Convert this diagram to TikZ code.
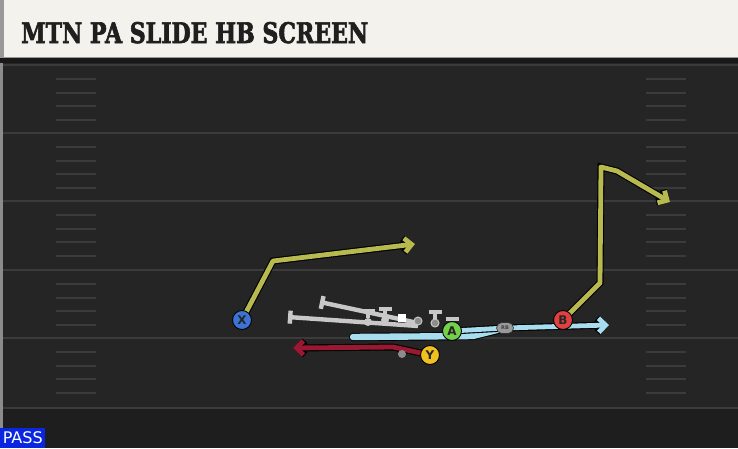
\documentclass[tikz,border=0pt]{standalone}
\usepackage{fontspec}
\usepackage{graphicx}
\usetikzlibrary{arrows.meta,shapes.misc}

\newfontfamily\titlefont[FakeBold=2.5]{DejaVu Serif}
\newfontfamily\labelfont{DejaVu Sans}

\definecolor{turf}{HTML}{252525}
\definecolor{yardline}{HTML}{3B3B3B}
\definecolor{banner}{HTML}{F4F2EC}
\definecolor{olive}{HTML}{B8B94E}
\definecolor{screen}{HTML}{A7DDEE}
\definecolor{crimson}{HTML}{9A1831}
\definecolor{block}{HTML}{C8C8C8}
\definecolor{xblue}{HTML}{3C74D6}
\definecolor{agreen}{HTML}{74D04A}
\definecolor{yyellow}{HTML}{F0C021}
\definecolor{bred}{HTML}{E0403F}
\definecolor{passblue}{HTML}{0B26E0}

\pgfdeclarelayer{turf}
\pgfdeclarelayer{routes}
\pgfsetlayers{turf,routes,main}

\tikzset{
  player/.style={circle, draw=black, line width=0.9pt, minimum size=19pt, inner sep=0pt,
    text=black!85, font=\labelfont\bfseries\fontsize{12}{12}\selectfont},
  route/.style={line width=4.8pt, line join=round,
    preaction={draw=black, line width=7pt}},
  tip/.style={-{Straight Barb[length=7pt, width=14pt]}},
  blockline/.style={draw=block, line width=4.4pt, -{Bar[width=13pt]}},
  lineman/.style={circle, inner sep=0pt, minimum size=8pt},
  hashmark/.style={draw=yardline, line width=1.6pt}
}

\begin{document}
\begin{tikzpicture}[x=1pt, y=-1pt]
\useasboundingbox (0,0) rectangle (738,448);

\begin{pgfonlayer}{turf}
  % field
  \fill[turf] (0,0) rectangle (738,448);
  \fill[black!18!turf] (0,408) rectangle (738,448);
  \foreach \yl in {65,133,201,270,338,408}
    \draw[yardline, line width=2pt] (0,\yl) -- (738,\yl);
  \foreach \yl in {65,133,201,270,338}
    \foreach \off in {14,28,41,55} {
      \draw[hashmark] (56,\yl+\off) -- (96,\yl+\off);
      \draw[hashmark] (646,\yl+\off) -- (686,\yl+\off);
    }
  \fill[black!45] (0,58) rectangle (2.5,448);
  % header
  \fill[black!90] (0,56) rectangle (738,63);
  \fill[black!40] (0,0) rectangle (738,58);
  \fill[banner] (4,0) rectangle (738,57);
\end{pgfonlayer}

\node[anchor=base west, inner sep=0pt, text=black!88] (title) at (21,43)
  {\resizebox{347pt}{21pt}{\titlefont\bfseries MTN PA SLIDE HB SCREEN}};
\node[fill=passblue, anchor=south west, minimum width=45pt, minimum height=20pt,
  inner sep=0pt, text=white, font=\labelfont\fontsize{16}{16}\selectfont] (pass) at (0,448) {PASS};

% offensive line
\node[lineman, fill=block] (lt) at (368,322) {};
\node[lineman, fill=block] (lg) at (385,320) {};
\node[fill=white, minimum size=8pt, inner sep=0pt] (c) at (402,318) {};
\node[lineman, fill=black!45, draw=block, line width=1pt] (rg) at (418,321) {};
\node[lineman, fill=black!45, draw=block, line width=1pt] (rt) at (435,323) {};

% skill players
\node[player, fill=xblue] (X) at (242,320) {X};
\node[player, fill=agreen] (A) at (452,331) {A};
\node[player, fill=yyellow] (Y) at (430,355) {Y};
\node[player, fill=bred] (B) at (563,320) {B};
\node[rounded rectangle, fill=black!40, draw=black!80, line width=0.6pt, minimum width=17pt,
  minimum height=11pt, inner sep=0pt, font=\labelfont\bfseries\fontsize{5}{5}\selectfont,
  text=black!75] (rb) at (505,328) {RB};
\node[circle, fill=black!45, minimum size=8pt, inner sep=0pt] (ymotion) at (402,354) {};

\coordinate (xcut) at (273,261);
\coordinate (xend) at (415,244);
\coordinate (bstem) at (600,283);
\coordinate (btop) at (601,167);
\coordinate (bbreak) at (617,171);
\coordinate (bend) at (670,202);
\coordinate (ycut) at (393,347);
\coordinate (yend) at (293,348);
\coordinate (slidestart) at (353,337);
\coordinate (slidebend) at (473,336);
\coordinate (screenend) at (609,325);

\begin{pgfonlayer}{routes}
  % routes
  \draw[route, olive, tip] (X.center) -- (xcut) -- (xend);
  \draw[route, olive, tip] (B.center) -- (bstem) -- (btop) -- (bbreak) -- (bend);
  \draw[route, crimson, tip] (Y.center) -- (ycut) -- (yend);
  \draw[screen, line width=6.4pt, line cap=round, line join=round,
    preaction={draw=black, line width=8.2pt, line cap=round, line join=round}]
    (slidestart) -- (slidebend) -- (rb.center);
  \draw[route, screen, tip] (A.center) -- (rb.center) -- (screenend);
  % blocks
  \draw[blockline] ([yshift=-5pt]rg.center) -- (288,317);
  \draw[blockline] ([yshift=-2pt]rg.center) -- (320,302);
  \draw[blockline] (lt) -- (368,309);
  \draw[blockline] (lg) -- (385,307);
  \draw[blockline] (rt) -- (435,310);
  \draw[blockline] (A) -- (452,317);
\end{pgfonlayer}
\end{tikzpicture}
\end{document}
